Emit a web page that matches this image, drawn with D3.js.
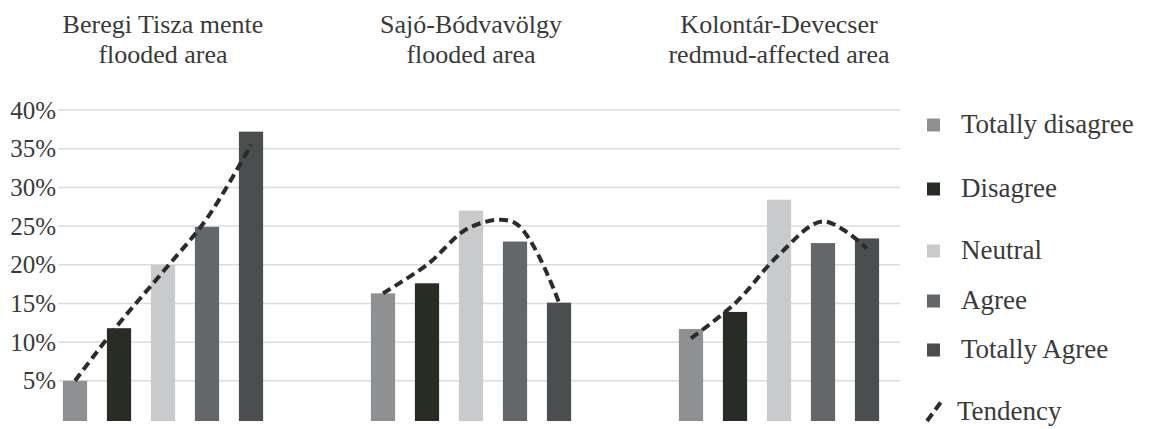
<!DOCTYPE html>
<html>
<head>
<meta charset="utf-8">
<script src="https://cdn.jsdelivr.net/npm/d3@7"></script>
<style>
  html, body { margin: 0; padding: 0; background: #fff; }
  svg { display: block; }
  text { font-family: "Liberation Serif", "Times New Roman", serif; fill: #3a3a3a; }
</style>
</head>
<body>
<svg id="chart" width="1151" height="429"></svg>
<script>
// ---------- data ----------
const groups = ["Beregi Tisza mente flooded area", "Sajó-Bódvavölgy flooded area", "Kolontár-Devecser redmud-affected area"];
const groupTitleLines = [
  ["Beregi Tisza mente", "flooded area"],
  ["Sajó-Bódvavölgy", "flooded area"],
  ["Kolontár-Devecser", "redmud-affected area"]
];
const categories = ["Totally disagree", "Disagree", "Neutral", "Agree", "Totally Agree"];
const beregiValues = [5.0, 11.8, 20.0, 24.9, 37.2];
const sajoValues = [16.3, 17.6, 27.0, 23.0, 15.1];
const kolontarValues = [11.7, 13.9, 28.4, 22.8, 23.4];
const beregiTendency = [5.0, 12.4, 19.1, 26.0, 35.5];
const sajoTendency = [16.3, 20.0, 24.9, 25.4, 15.1];
const kolontarTendency = [10.5, 15.0, 21.3, 25.6, 22.1];
const yTicks = [5, 10, 15, 20, 25, 30, 35, 40];
const tickLabels = ["5%", "10%", "15%", "20%", "25%", "30%", "35%", "40%"];
const tendencyLabel = "Tendency";

const seriesValues = [beregiValues, sajoValues, kolontarValues];
const seriesTendency = [beregiTendency, sajoTendency, kolontarTendency];

// ---------- styles ----------
const colors = ["#8e9092", "#272c25", "#c8cacb", "#64676a", "#4a4e4e"];

const svg = d3.select("#chart");

const y = d3.scaleLinear().domain([0, 40]).range([419.5, 110]);
const x0 = d3.scaleBand().domain(groups).range([9, 933]).padding(0);
const x1 = d3.scaleBand().domain(categories).range([0, x0.bandwidth()])
  .paddingInner(0.45).paddingOuter(1.225);

// y labels
const yAxis = d3.axisLeft(y).tickValues(yTicks)
  .tickFormat((d, i) => tickLabels[i]).tickSize(0).tickPadding(1);
const gAxis = svg.append("g").attr("transform", "translate(57,0)").call(yAxis);
gAxis.select(".domain").remove();
gAxis.selectAll("text")
  .style("font-family", '"Liberation Serif", "Times New Roman", serif')
  .style("font-size", "25px").attr("fill", "#3a3a3a");

// gridlines
svg.append("g").selectAll("line").data(yTicks).join("line")
  .attr("x1", 58).attr("x2", 900)
  .attr("y1", d => y(d)).attr("y2", d => y(d))
  .attr("stroke", "#dcdcdc").attr("stroke-width", 1.5);

// bars
const gGroups = svg.append("g").selectAll("g").data(groups).join("g")
  .attr("transform", d => `translate(${x0(d)},0)`);

gGroups.selectAll("rect")
  .data((g, gi) => categories.map((c, ci) => ({ c, ci, v: seriesValues[gi][ci] })))
  .join("rect")
  .attr("x", d => x1(d.c))
  .attr("width", x1.bandwidth())
  .attr("y", d => y(d.v))
  .attr("height", d => y(0) - y(d.v) + 1.5)
  .attr("fill", d => colors[d.ci]);

// tendency lines
const line = d3.line()
  .x(d => x1(d.c) + x1.bandwidth() / 2)
  .y(d => y(d.v))
  .curve(d3.curveCatmullRom.alpha(0.5));

gGroups.append("path")
  .datum((g, gi) => categories.map((c, ci) => ({ c, v: seriesTendency[gi][ci] })))
  .attr("d", line)
  .attr("fill", "none")
  .attr("stroke", "#2b2b2b")
  .attr("stroke-width", 4)
  .attr("stroke-dasharray", "9,5");

// group titles
gGroups.each(function (g, gi) {
  const t = d3.select(this).append("text")
    .attr("text-anchor", "middle")
    .style("font-size", "26px");
  groupTitleLines[gi].forEach((ln, li) => {
    t.append("tspan").attr("x", x0.bandwidth() / 2).attr("y", 33 + li * 30).text(ln);
  });
});

// legend
const legendY = [125, 189, 251, 301, 350];
const legend = svg.append("g");
categories.forEach((c, i) => {
  legend.append("rect")
    .attr("x", 927).attr("y", legendY[i] - 6.5)
    .attr("width", 13).attr("height", 13)
    .attr("fill", colors[i]);
  legend.append("text")
    .attr("x", 961).attr("y", legendY[i] + 8)
    .style("font-size", "27px")
    .text(c);
});
legend.append("path")
  .attr("d", "M927,421 L941,402")
  .attr("stroke", "#2b2b2b").attr("stroke-width", 4)
  .attr("stroke-dasharray", "9,5");
legend.append("text")
  .attr("x", 957).attr("y", 420)
  .style("font-size", "27px")
  .text(tendencyLabel);
</script>
</body>
</html>
